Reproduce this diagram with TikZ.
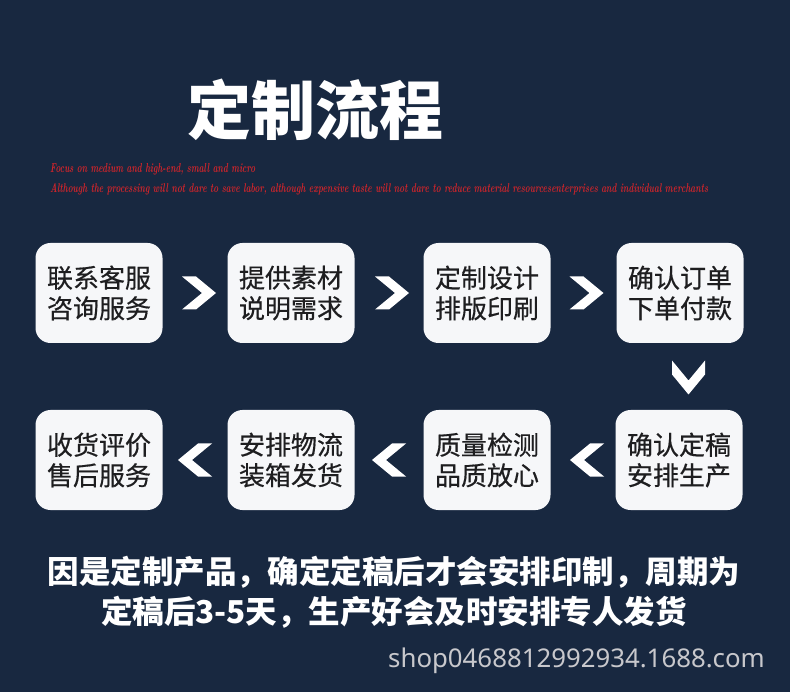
\documentclass[tikz,border=0pt]{standalone}
\usepackage{fontspec}
\usepackage{graphicx}
\newfontfamily\cjk{Noto Sans CJK SC}
\newfontfamily\cjkm[FakeBold=0.5]{Noto Sans CJK SC}
\newfontfamily\wm{Noto Sans}
\usetikzlibrary{calc}
\definecolor{bg}{RGB}{24,40,64}
\definecolor{boxfill}{RGB}{246,247,249}
\definecolor{boxtext}{RGB}{30,30,32}
\definecolor{scriptred}{RGB}{212,36,42}
\definecolor{wmgray}{RGB}{200,200,204}
\tikzset{
  x=1pt, y=-1pt,
  stepbox/.style={fill=boxfill, rounded corners=15pt, minimum width=127pt, minimum height=100pt,
    inner sep=0pt, align=center, text=boxtext, font=\cjkm\fontsize{26}{30.5}\selectfont,
    execute at begin node={\rule{0pt}{28pt}}},
  chev/.pic={\fill[white] (-17,-16.5) -- (-3,-16.5) -- (17,0) -- (-3,16.5) -- (-17,16.5) -- (3,0) -- cycle;},
}
\begin{document}
\begin{tikzpicture}
\fill[bg] (0,0) rectangle (790,692);
\useasboundingbox (0,0) rectangle (790,692);

\node[text=white, font=\cjk\bfseries\fontsize{64}{64}\selectfont] (title) at (315,110) {定制流程};
\node[anchor=west, inner sep=0pt, text=scriptred] (sub1) at (50,169)
  {\resizebox{205pt}{9pt}{\bfseries\itshape Focus on medium and high-end, small and micro}};
\node[anchor=west, inner sep=0pt, text=scriptred] (sub2) at (50,189)
  {\resizebox{658pt}{9pt}{\bfseries\itshape Although the processing will not dare to save labor, although expensive taste will not dare to reduce material resourcesenterprises and individual merchants}};

\node[stepbox] (b1) at (99,293) {联系客服\\咨询服务};
\node[stepbox] (b2) at (291,293) {提供素材\\说明需求};
\node[stepbox] (b3) at (487,293) {定制设计\\排版印刷};
\node[stepbox] (b4) at (680,293) {确认订单\\下单付款};
\node[stepbox] (b5) at (679,460) {确认定稿\\安排生产};
\node[stepbox] (b6) at (487,460) {质量检测\\品质放心};
\node[stepbox] (b7) at (291,460) {安排物流\\装箱发货};
\node[stepbox] (b8) at (99,460) {收货评价\\售后服务};

\pic at ($($(b1.east)!.5!(b2.west)$)+(4,0)$) {chev};
\pic at ($($(b2.east)!.5!(b3.west)$)+(3,0)$) {chev};
\pic at ($($(b3.east)!.5!(b4.west)$)+(3,0)$) {chev};
\pic[rotate=-90] at ($($(b4.south)!.5!(b5.north)$)+(9,1)$) {chev};
\pic[xscale=-1] at ($($(b6.east)!.5!(b5.west)$)+(4,0)$) {chev};
\pic[xscale=-1] at ($($(b7.east)!.5!(b6.west)$)+(0,0)$) {chev};
\pic[xscale=-1] at ($($(b8.east)!.5!(b7.west)$)+(0,0)$) {chev};

\node[text=white, align=center, font=\cjk\bfseries\fontsize{31.5}{40}\selectfont] (note) at (394,592)
  {因是定制产品，确定定稿后才会安排印制，周期为\\定稿后3-5天，生产好会及时安排专人发货};
\node[anchor=east, text=wmgray, inner sep=0pt, font=\wm\fontsize{25.8}{27}\selectfont] (shop) at (765,661)
  {shop0468812992934.1688.com};
\end{tikzpicture}
\end{document}
